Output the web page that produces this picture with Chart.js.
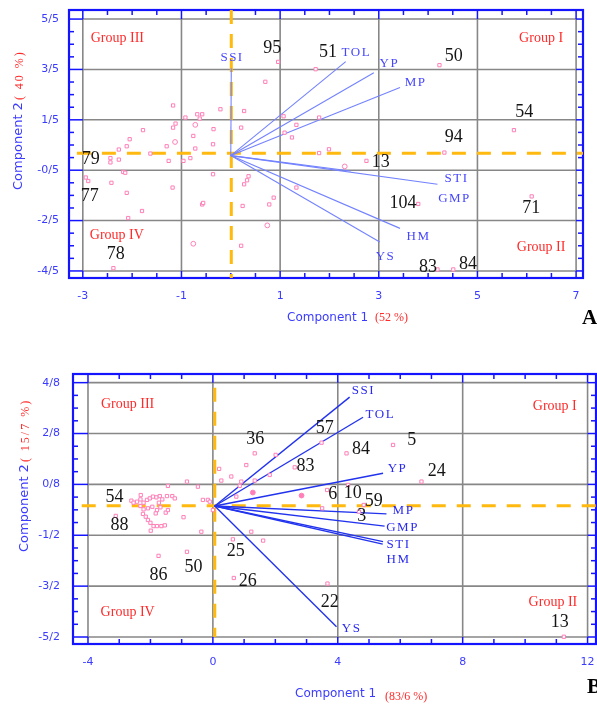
<!DOCTYPE html>
<html>
<head>
<meta charset="utf-8">
<script src="https://cdn.jsdelivr.net/npm/chart.js@4.4.1/dist/chart.umd.min.js"></script>
<style>
  html, body { margin: 0; padding: 0; background: #fff; width: 597px; height: 707px; overflow: hidden; }
  canvas { position: absolute; left: 0; display: block; }
  #chartA { top: 0; }
  #chartB { top: 355px; }
</style>
</head>
<body>
<canvas id="chartA" width="597" height="340"></canvas>
<canvas id="chartB" width="597" height="352"></canvas>
<script>
// ---------- shared names ----------
const traitNames = ['SSI', 'TOL', 'YP', 'MP', 'STI', 'GMP', 'HM', 'YS'];
const groupNames = ['Group I', 'Group II', 'Group III', 'Group IV'];

// ---------- panel A ----------
const xTicksA = [-3, -1, 1, 3, 5, 7];
const xTickLabelsA = ['-3', '-1', '1', '3', '5', '7'];
const yTicksA = [5.5, 3.5, 1.5, -0.5, -2.5, -4.5];
const yTickLabelsA = ['5/5', '3/5', '1/5', '-0/5', '-2/5', '-4/5'];

const genoSquareAx = [-1.17, -0.92, -0.68, -0.58, -0.63, -0.21, 0.27, -1.12, -1.17, -1.78, -0.35, 0.21, -0.76, -2.05, -0.36, -2.11, -1.30, -0.72, -2.27, -1.63, -2.44, -2.44, -2.27, -1.26, -0.96, -0.82, -2.18, -2.14, -2.94, -2.89, -2.42, -0.36, 0.36, 0.33, 0.27, -1.18, -2.11, 1.33, -0.58, -0.56, 0.24, 0.87, 0.78, -1.80, -2.08, 0.21, 1.07, 1.09, 1.24, 1.33, 1.79, 0.96, 0.70, -2.38, 1.72, 4.23, 1.79, 5.74, 4.33, 1.99, 2.75, 3.80, 6.10, 4.19, 4.51];
const genoSquareAy = [2.07, 1.59, 1.72, 1.72, 1.55, 1.92, 1.85, 1.35, 1.19, 1.09, 1.13, 1.19, 0.86, 0.73, 0.53, 0.45, 0.45, 0.36, 0.32, 0.16, -0.02, -0.19, -0.08, -0.13, -0.13, -0.02, -0.57, -0.60, -0.79, -0.93, -1.00, -0.66, -0.74, -0.90, -1.06, -1.19, -1.40, -1.19, -1.86, -1.80, -1.92, -1.59, -1.86, -2.12, -2.40, -3.50, 1.64, 0.99, 0.80, 1.30, 0.18, 3.80, 3.01, -4.39, 3.51, 3.67, 1.59, 1.09, 0.20, 0.33, -0.13, -1.84, -1.54, -4.44, -4.44];
const genoRingAx = [-0.72, -1.13, 0.74, -0.76, 2.31];
const genoRingAy = [1.30, 0.62, -2.69, -3.42, -0.35];

const genoLabelsA = ['95', '51', '50', '54', '94', '13', '104', '71', '83', '84', '79', '77', '78'];
const genoLabelAx = [0.84, 1.97, 4.52, 5.95, 4.52, 3.04, 3.49, 6.09, 4.00, 4.81, -2.84, -2.86, -2.33];
const genoLabelAy = [4.35, 4.19, 4.03, 1.80, 0.81, -0.19, -1.82, -2.02, -4.36, -4.24, -0.07, -1.54, -3.84];

const traitEndAx = [0.01, 2.33, 2.90, 3.43, 4.19, 2.43, 3.43, 3.02];
const traitEndAy = [3.55, 3.81, 3.37, 2.78, -1.06, -0.53, -2.81, -3.35];
const traitLabelAx = [0.01, 2.53, 3.20, 3.73, 4.56, 4.52, 3.79, 3.12];
const traitLabelAy = [3.99, 4.15, 3.75, 2.99, -0.82, -1.62, -3.13, -3.92];
const originA = [0, 0.08];

const groupLabelAx = [6.29, 6.29, -2.30, -2.31];
const groupLabelAy = [4.74, -3.57, 4.74, -3.09];

// ---------- panel B ----------
const xTicksB = [-4, 0, 4, 8, 12];
const xTickLabelsB = ['-4', '0', '4', '8', '12'];
const yTicksB = [4.8, 2.8, 0.8, -1.2, -3.2, -5.2];
const yTickLabelsB = ['4/8', '2/8', '0/8', '-1/2', '-3/2', '-5/2'];

const genoSquareBx = [-1.44, -0.83, -0.48, -2.31, -1.47, -1.30, -1.22, -0.32, -0.16, -0.10, -2.61, -2.54, -2.43, -2.32, -2.22, -2.11, -2.02, -1.92, -1.81, -1.70, -1.62, -1.73, -2.32, -2.22, -2.08, -1.94, -1.79, -1.68, -1.51, -1.44, -2.24, -2.15, -2.08, -2.00, -1.83, -3.11, -0.94, 0.00, -1.90, -1.79, -1.65, -1.54, -1.99, -0.37, -1.74, -0.83, 0.64, 1.23, 1.61, 0.67, 0.27, 0.59, 1.07, 0.91, 1.82, 1.34, 2.01, 2.62, 0.20, 0.86, 1.34, 0.75, 3.48, 4.28, 5.77, 6.68, 3.66, 4.33, 4.83, 4.68, 3.50, 3.67, 11.24];
const genoSquareBy = [0.74, 0.91, 0.71, 0.38, 0.34, 0.34, 0.25, 0.19, 0.19, 0.12, 0.16, 0.08, 0.12, 0.21, 0.08, 0.19, 0.25, 0.32, 0.29, 0.34, 0.21, 0.08, -0.05, -0.18, -0.14, -0.08, -0.21, -0.10, -0.31, -0.21, -0.36, -0.47, -0.60, -0.71, -0.34, -0.44, -0.49, -0.21, -0.84, -0.84, -0.84, -0.81, -1.02, -1.06, -2.01, -1.85, -1.36, -1.06, -1.41, -2.88, 0.95, 1.11, 1.56, 0.91, 1.17, 2.02, 1.96, 1.47, 1.41, 0.74, 0.95, 0.32, 2.44, 2.02, 2.35, 0.91, 0.58, 0.78, -0.01, -0.27, -0.14, -3.10, -5.19];
const genoBlobBx = [2.84, 1.28];
const genoBlobBy = [0.36, 0.48];

const genoLabelsB = ['36', '57', '84', '5', '83', '24', '6', '10', '59', '3', '54', '88', '86', '50', '25', '26', '22', '13'];
const genoLabelBx = [1.36, 3.58, 4.74, 6.37, 2.97, 7.17, 3.84, 4.48, 5.15, 4.77, -3.15, -2.99, -1.74, -0.62, 0.73, 1.12, 3.74, 11.11];
const genoLabelBy = [2.59, 3.02, 2.19, 2.55, 1.52, 1.33, 0.42, 0.46, 0.15, -0.44, 0.31, -0.80, -2.76, -2.45, -1.82, -3.00, -3.82, -4.61];

const traitEndBx = [4.38, 4.81, 5.45, 5.56, 5.45, 5.50, 5.44, 3.96];
const traitEndBy = [4.23, 3.44, 1.24, -0.36, -1.45, -0.84, -1.55, -4.80];
const traitLabelBx = [4.80, 5.34, 5.89, 6.08, 5.92, 6.05, 5.92, 4.42];
const traitLabelBy = [4.47, 3.53, 1.41, -0.21, -1.58, -0.88, -2.17, -4.85];
const originB = [0.06, -0.05];

const groupLabelBx = [10.95, 10.89, -2.73, -2.73];
const groupLabelBy = [3.88, -3.82, 3.96, -4.22];

// ---------- styling ----------
const FRAME = '#1414ff';
const TICK_TEXT = '#3b3bff';
const GRID = '#878787';
const ORANGE = '#ffb90f';
const PINK = '#ff7fb8';
const RED = '#ff2a2a';

function pts(xs, ys) { return xs.map((x, i) => ({ x, y: ys[i] })); }

function biplot(id, P) {
  const datasets = [];
  // genotype markers (drawn on top)
  datasets.push({ data: pts(P.sqX, P.sqY), pointStyle: 'rect', pointRadius: 2.3, borderWidth: 1,
    borderColor: PINK, backgroundColor: '#ffffff', order: 0 });
  datasets.push({ data: pts(P.ringX, P.ringY), pointStyle: 'circle', pointRadius: 2.4, borderWidth: 1,
    borderColor: PINK, backgroundColor: P.ringFill, order: 0 });
  // trait vectors from the origin
  traitNames.forEach((t, i) => {
    datasets.push({ data: [{ x: P.origin[0], y: P.origin[1] }, { x: P.endX[i], y: P.endY[i] }],
      showLine: true, pointRadius: 0, borderColor: P.vecColor, borderWidth: P.vecWidth, order: 1 });
  });
  // dashed reference axes
  datasets.push({ data: [{ x: P.hLine[0], y: P.hLine[2] }, { x: P.hLine[1], y: P.hLine[2] }],
    showLine: true, pointRadius: 0, borderColor: ORANGE, borderWidth: 3, borderDash: [14, 11], order: 2 });
  datasets.push({ data: [{ x: P.vLine[2], y: P.vLine[0] }, { x: P.vLine[2], y: P.vLine[1] }],
    showLine: true, pointRadius: 0, borderColor: ORANGE, borderWidth: 3, borderDash: [14, 10], order: 2 });

  function seg(ctx, x1, y1, x2, y2) { ctx.beginPath(); ctx.moveTo(x1, y1); ctx.lineTo(x2, y2); ctx.stroke(); }

  const framePlugin = {
    id: 'biplotFrame',
    beforeDatasetsDraw(chart) {
      const { ctx, chartArea: a, scales: { x, y } } = chart;
      const gx0 = x.getPixelForValue(P.xTicks[0]);
      const gx1 = x.getPixelForValue(P.xTicks[P.xTicks.length - 1]);
      const gy0 = y.getPixelForValue(P.yTicks[0]);
      const gy1 = y.getPixelForValue(P.yTicks[P.yTicks.length - 1]);
      ctx.save();
      ctx.strokeStyle = GRID; ctx.lineWidth = 1.6;
      P.xTicks.forEach(v => { const px = x.getPixelForValue(v); seg(ctx, px, gy0, px, gy1); });
      P.yTicks.forEach(v => { const py = y.getPixelForValue(v); seg(ctx, gx0, py, gx1, py); });
      ctx.strokeStyle = FRAME; ctx.lineWidth = 1.5;
      P.xTicks.forEach(v => { const px = x.getPixelForValue(v); seg(ctx, px, a.top, px, gy0); seg(ctx, px, a.bottom, px, gy1); });
      P.yTicks.forEach(v => { const py = y.getPixelForValue(v); seg(ctx, a.left, py, gx0, py); seg(ctx, a.right, py, gx1, py); });
      const xs = P.xTicks, ys = P.yTicks;
      for (let v = xs[0]; v <= xs[xs.length - 1] + 1e-9; v += P.xMinor) {
        if (xs.some(m => Math.abs(m - v) < 1e-6)) continue;
        const px = x.getPixelForValue(v);
        seg(ctx, px, a.top, px, a.top + 5); seg(ctx, px, a.bottom, px, a.bottom - 5);
      }
      for (let v = ys[ys.length - 1]; v <= ys[0] + 1e-9; v += P.yMinor) {
        if (ys.some(m => Math.abs(m - v) < 1e-6)) continue;
        const py = y.getPixelForValue(v);
        seg(ctx, a.left, py, a.left + 5, py); seg(ctx, a.right, py, a.right - 5, py);
      }
      ctx.lineWidth = 2.2;
      ctx.strokeRect(a.left, a.top, a.right - a.left, a.bottom - a.top);
      ctx.restore();
    }
  };

  const textPlugin = {
    id: 'biplotText',
    afterDatasetsDraw(chart) {
      const { ctx, scales: { x, y } } = chart;
      ctx.save();
      ctx.textAlign = 'center'; ctx.textBaseline = 'middle';
      // genotype numbers
      ctx.fillStyle = '#151515';
      ctx.font = '18px "Liberation Serif"';
      P.genoLabels.forEach((s, i) => ctx.fillText(s, x.getPixelForValue(P.genoX[i]), y.getPixelForValue(P.genoY[i])));
      // trait names
      ctx.fillStyle = P.vecText;
      ctx.font = '13px "Liberation Serif"';
      ctx.letterSpacing = '1.5px';
      traitNames.forEach((s, i) => ctx.fillText(s, x.getPixelForValue(P.traitLX[i]) + 0.75, y.getPixelForValue(P.traitLY[i])));
      ctx.letterSpacing = '0px';
      // quadrant groups
      ctx.fillStyle = RED;
      ctx.font = '14px "Liberation Serif"';
      groupNames.forEach((s, i) => ctx.fillText(s, x.getPixelForValue(P.groupX[i]), y.getPixelForValue(P.groupY[i])));
      // axis titles
      ctx.textAlign = 'left'; ctx.textBaseline = 'alphabetic';
      ctx.font = '12px "DejaVu Sans"'; ctx.fillStyle = TICK_TEXT;
      ctx.fillText('Component 1', P.xTitle[0], P.xTitle[1]);
      ctx.font = '12px "Liberation Serif"'; ctx.fillStyle = RED;
      ctx.fillText(P.xPct, P.xTitle[2], P.xTitle[3]);
      ctx.save();
      ctx.translate(P.yTitle[0], P.yTitle[1]);
      ctx.rotate(-Math.PI / 2);
      ctx.textBaseline = 'middle';
      ctx.font = '13px "DejaVu Sans"'; ctx.fillStyle = TICK_TEXT;
      ctx.fillText('Component 2', 0, 0);
      const w = ctx.measureText('Component 2').width;
      ctx.font = '12px "Liberation Serif"'; ctx.fillStyle = RED;
      ctx.letterSpacing = '2px';
      ctx.fillText(P.yPct, w + 2, 1);
      ctx.letterSpacing = '0px';
      ctx.restore();
      // panel letter
      ctx.font = 'bold 21px "Liberation Serif"'; ctx.fillStyle = '#000';
      ctx.fillText(P.letter, P.letterPos[0], P.letterPos[1]);
      ctx.restore();
    }
  };

  return new Chart(document.getElementById(id), {
    type: 'scatter',
    data: { datasets },
    options: {
      responsive: false,
      animation: false,
      devicePixelRatio: 1,
      layout: { padding: P.pad, autoPadding: false },
      plugins: { legend: { display: false }, tooltip: { enabled: false } },
      scales: {
        x: {
          type: 'linear', min: P.xMin, max: P.xMax,
          grid: { display: false, drawTicks: false }, border: { display: false },
          afterBuildTicks: s => { s.ticks = P.xTicks.map(v => ({ value: v })); },
          afterFit: s => { s.height = P.xAxisH; s.paddingLeft = 0; s.paddingRight = 0; },
          ticks: { autoSkip: false, maxRotation: 0, padding: P.xPad, color: TICK_TEXT,
            font: { family: 'DejaVu Sans', size: 11 }, callback: (v, i) => P.xTickLabels[i] }
        },
        y: {
          type: 'linear', min: P.yMin, max: P.yMax,
          grid: { display: false, drawTicks: false }, border: { display: false },
          afterBuildTicks: s => { s.ticks = P.yTicks.map(v => ({ value: v })); },
          afterFit: s => { s.width = P.yAxisW; s.paddingTop = 0; s.paddingBottom = 0; },
          ticks: { autoSkip: false, padding: P.yPad, color: TICK_TEXT,
            font: { family: 'DejaVu Sans', size: 11 }, callback: (v, i) => P.yTickLabels[i] }
        }
      }
    },
    plugins: [framePlugin, textPlugin]
  });
}

biplot('chartA', {
  xMin: -3.28, xMax: 7.14, yMin: -4.78, yMax: 5.86,
  xTicks: xTicksA, xTickLabels: xTickLabelsA, yTicks: yTicksA, yTickLabels: yTickLabelsA,
  xMinor: 0.5, yMinor: 0.5,
  pad: { top: 10, right: 14, bottom: 0, left: 0 }, yAxisW: 69, xAxisH: 62, xPad: 12, yPad: 10,
  sqX: genoSquareAx, sqY: genoSquareAy, ringX: genoRingAx, ringY: genoRingAy, ringFill: '#ffffff',
  genoLabels: genoLabelsA, genoX: genoLabelAx, genoY: genoLabelAy,
  origin: originA, endX: traitEndAx, endY: traitEndAy, traitLX: traitLabelAx, traitLY: traitLabelAy,
  vecColor: '#7382ff', vecWidth: 1.1, vecText: '#4646ff',
  groupX: groupLabelAx, groupY: groupLabelAy,
  hLine: [-3.12, 7.14, 0.17], vLine: [5.86, -4.78, 0.01],
  xTitle: [287, 321, 375, 321], xPct: '(52 %)',
  yTitle: [19, 190], yPct: '( 40 %)',
  letter: 'A', letterPos: [582, 324]
});

biplot('chartB', {
  xMin: -4.48, xMax: 12.27, yMin: -5.475, yMax: 5.14,
  xTicks: xTicksB, xTickLabels: xTickLabelsB, yTicks: yTicksB, yTickLabels: yTickLabelsB,
  xMinor: 1, yMinor: 0.5,
  pad: { top: 19, right: 1, bottom: 0, left: 0 }, yAxisW: 73, xAxisH: 63, xPad: 12, yPad: 13,
  sqX: genoSquareBx, sqY: genoSquareBy, ringX: genoBlobBx, ringY: genoBlobBy, ringFill: PINK,
  genoLabels: genoLabelsB, genoX: genoLabelBx, genoY: genoLabelBy,
  origin: originB, endX: traitEndBx, endY: traitEndBy, traitLX: traitLabelBx, traitLY: traitLabelBy,
  vecColor: '#2233ee', vecWidth: 1.4, vecText: '#2a2af0',
  groupX: groupLabelBx, groupY: groupLabelBy,
  hLine: [-4.2, 12.27, -0.04], vLine: [4.6, -5.2, 0.06],
  xTitle: [295, 342, 385, 345], xPct: '(83/6 %)',
  yTitle: [25, 197], yPct: '( 15/7 %)',
  letter: 'B', letterPos: [587, 338]
});
</script>
</body>
</html>
